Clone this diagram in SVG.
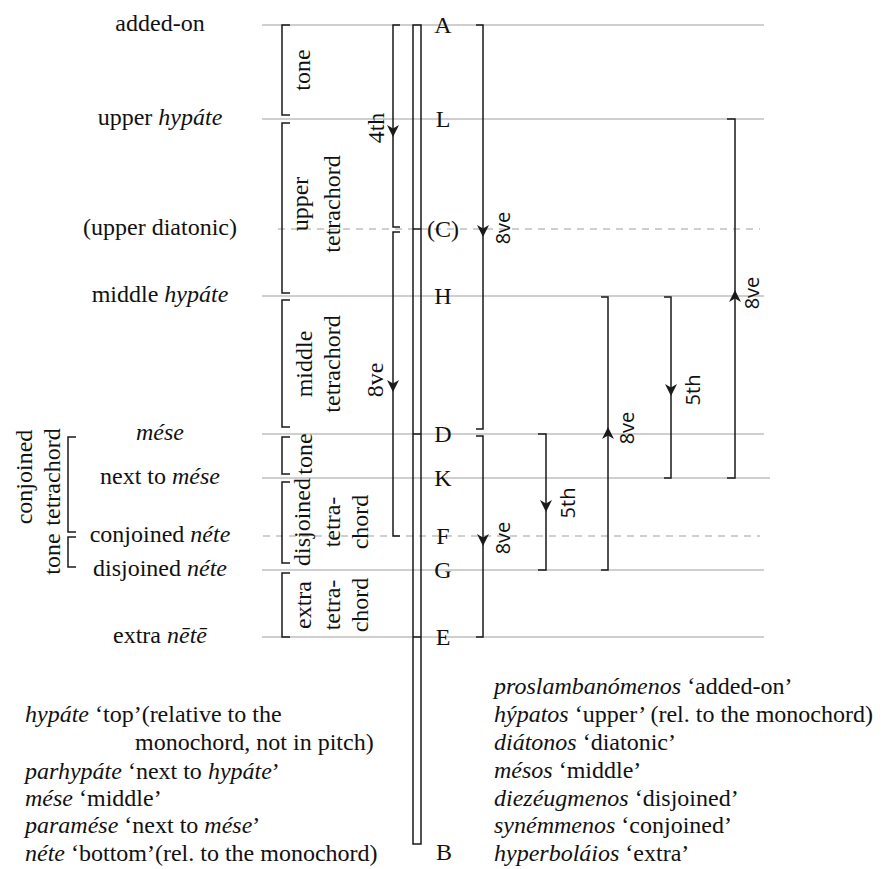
<svg xmlns="http://www.w3.org/2000/svg" xmlns:xlink="http://www.w3.org/1999/xlink" width="888" height="869" viewBox="0 0 888 869">
<style>
.g{stroke:#a0a0a0;stroke-width:1.2;fill:none}
.d{stroke-dasharray:7 6}
.k{stroke:#1a1a1a;stroke-width:1.5;fill:none}
.t{font-family:"Liberation Serif","Times New Roman",serif;font-size:24px;fill:#111}
.m{text-anchor:middle}
.s{font-family:"Open Sans","Liberation Sans",sans-serif;font-size:20px;fill:#111;text-anchor:middle}
.i{font-style:italic}
</style>
<defs>
<path id="ah" d="M0,0 L-6,-12 L0,-8.5 L6,-12 Z" fill="#1a1a1a"/>
</defs>
<rect width="888" height="869" fill="#fff"/>
<g id="grid">
<line class="g" x1="262" y1="25" x2="764" y2="25"/>
<line class="g" x1="262" y1="119" x2="764" y2="119"/>
<line class="g d" x1="278" y1="229" x2="760" y2="229"/>
<line class="g" x1="262" y1="296" x2="764" y2="296"/>
<line class="g" x1="262" y1="434" x2="764" y2="434"/>
<line class="g" x1="262" y1="478" x2="770" y2="478"/>
<line class="g d" x1="263" y1="536" x2="760" y2="536"/>
<line class="g" x1="262" y1="570" x2="764" y2="570"/>
<line class="g" x1="262" y1="637" x2="764" y2="637"/>
</g>
<g id="monochord">
<rect class="k" x="413" y="25" width="8" height="819" stroke-width="1.3"/>
<line class="k" x1="413" y1="229" x2="421" y2="229"/>
<line class="k" x1="413" y1="434" x2="421" y2="434"/>
<line class="k" x1="413" y1="637" x2="421" y2="637"/>
<text class="t m" x="444" y="860">B</text>
</g>
<g id="pitch-A"><text class="t m" x="160" y="31">added-on</text><text class="t m" x="443" y="33">A</text></g>
<g id="pitch-L"><text class="t m" x="160" y="125">upper <tspan class="i">hypáte</tspan></text><text class="t m" x="443" y="127">L</text></g>
<g id="pitch-C"><text class="t m" x="160" y="235">(upper diatonic)</text><text class="t m" x="443" y="237">(C)</text></g>
<g id="pitch-H"><text class="t m" x="160" y="302">middle <tspan class="i">hypáte</tspan></text><text class="t m" x="443" y="304">H</text></g>
<g id="pitch-D"><text class="t m i" x="160" y="440">mése</text><text class="t m" x="443" y="442">D</text></g>
<g id="pitch-K"><text class="t m" x="160" y="484">next to <tspan class="i">mése</tspan></text><text class="t m" x="443" y="486">K</text></g>
<g id="pitch-F"><text class="t m" x="160" y="542">conjoined <tspan class="i">néte</tspan></text><text class="t m" x="443" y="544">F</text></g>
<g id="pitch-G"><text class="t m" x="160" y="576">disjoined <tspan class="i">néte</tspan></text><text class="t m" x="443" y="578">G</text></g>
<g id="pitch-E"><text class="t m" x="160" y="643">extra <tspan class="i">nētē</tspan></text><text class="t m" x="443" y="645">E</text></g>
<g id="segment-tone-upper">
<path class="k" d="M290,25 H282 V115 H290"/>
<text class="t m" transform="translate(310,70) rotate(-90)">tone</text>
</g>
<g id="segment-upper-tetrachord">
<path class="k" d="M290,123 H282 V293 H290"/>
<text class="t m" transform="translate(308,204) rotate(-90)">upper</text>
<text class="t m" transform="translate(340,204) rotate(-90)">tetrachord</text>
</g>
<g id="segment-middle-tetrachord">
<path class="k" d="M290,300 H282 V427 H290"/>
<text class="t m" transform="translate(312,364) rotate(-90)">middle</text>
<text class="t m" transform="translate(340,364) rotate(-90)">tetrachord</text>
</g>
<g id="segment-tone-disjunction">
<path class="k" d="M290,437 H282 V474 H290"/>
<text class="t m" transform="translate(312,454) rotate(-90)">tone</text>
</g>
<g id="segment-disjoined-tetrachord">
<path class="k" d="M290,482 H282 V563 H290"/>
<text class="t m" transform="translate(310,522) rotate(-90)">disjoined</text>
<text class="t m" transform="translate(340,522) rotate(-90)">tetra-</text>
<text class="t m" transform="translate(368,522) rotate(-90)">chord</text>
</g>
<g id="segment-extra-tetrachord">
<path class="k" d="M290,573 H282 V637 H290"/>
<text class="t m" transform="translate(311,605) rotate(-90)">extra</text>
<text class="t m" transform="translate(340,605) rotate(-90)">tetra-</text>
<text class="t m" transform="translate(368,605) rotate(-90)">chord</text>
</g>
<g id="segment-conjoined">
<path class="k" d="M76,437 H68 V532 H76"/>
<path class="k" d="M76,537 H68 V567 H76"/>
<text class="t m" transform="translate(32,477) rotate(-90)">conjoined</text>
<text class="t m" transform="translate(60,477) rotate(-90)">tetrachord</text>
<text class="t m" transform="translate(60,554) rotate(-90)">tone</text>
</g>
<g id="connectors">
<path class="k" d="M400,25 H393 V227 H400"/>
<use xlink:href="#ah" transform="translate(393,137)"/>
<text class="t m" transform="translate(384,128) rotate(-90)">4th</text>
<path class="k" d="M400,232 H393 V536 H400"/>
<use xlink:href="#ah" transform="translate(393,392)"/>
<text class="t m" transform="translate(383,380) rotate(-90)">8ve</text>
<path class="k" d="M476,25 H483 V429 H476"/>
<use xlink:href="#ah" transform="translate(483,237)"/>
<text class="s" transform="translate(510,228) rotate(-90)">8ve</text>
<path class="k" d="M476,436 H483 V637 H476"/>
<use xlink:href="#ah" transform="translate(483,546)"/>
<text class="s" transform="translate(510,538) rotate(-90)">8ve</text>
<path class="k" d="M538,434 H546 V570 H538"/>
<use xlink:href="#ah" transform="translate(546,512)"/>
<text class="s" transform="translate(575,503) rotate(-90)">5th</text>
<path class="k" d="M601,297 H608 V570 H601"/>
<use xlink:href="#ah" transform="translate(608,427) rotate(180)"/>
<text class="s" transform="translate(634,428) rotate(-90)">8ve</text>
<path class="k" d="M664,297 H671 V478 H664"/>
<use xlink:href="#ah" transform="translate(671,396)"/>
<text class="s" transform="translate(700,390) rotate(-90)">5th</text>
<path class="k" d="M727,119 H735 V478 H727"/>
<use xlink:href="#ah" transform="translate(735,290) rotate(180)"/>
<text class="s" transform="translate(759,293) rotate(-90)">8ve</text>
</g>
<g id="glossary-left">
<text class="t" x="25" y="722"><tspan class="i">hypáte</tspan> ‘top’(relative to the</text>
<text class="t" x="135" y="750">monochord, not in pitch)</text>
<text class="t" x="25" y="779"><tspan class="i">parhypáte</tspan> ‘next to <tspan class="i">hypáte</tspan>’</text>
<text class="t" x="25" y="806"><tspan class="i">mése</tspan> ‘middle’</text>
<text class="t" x="25" y="833"><tspan class="i">paramése</tspan> ‘next to <tspan class="i">mése</tspan>’</text>
<text class="t" x="25" y="861"><tspan class="i">néte</tspan> ‘bottom’(rel. to the monochord)</text>
</g>
<g id="glossary-right">
<text class="t" x="494" y="694"><tspan class="i">proslambanómenos</tspan> ‘added-on’</text>
<text class="t" x="494" y="722"><tspan class="i">hýpatos</tspan> ‘upper’ (rel. to the monochord)</text>
<text class="t" x="494" y="750"><tspan class="i">diátonos</tspan> ‘diatonic’</text>
<text class="t" x="494" y="778"><tspan class="i">mésos</tspan> ‘middle’</text>
<text class="t" x="494" y="806"><tspan class="i">diezéugmenos</tspan> ‘disjoined’</text>
<text class="t" x="494" y="833"><tspan class="i">synémmenos</tspan> ‘conjoined’</text>
<text class="t" x="494" y="861"><tspan class="i">hyperboláios</tspan> ‘extra’</text>
</g>
</svg>
